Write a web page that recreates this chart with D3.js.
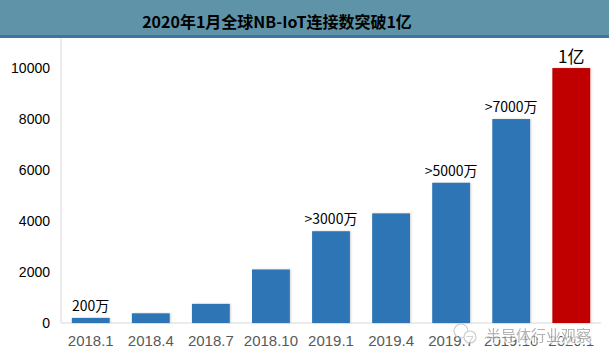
<!DOCTYPE html>
<html lang="zh">
<head>
<meta charset="UTF-8">
<title>2020年1月全球NB-IoT连接数突破1亿</title>
<style>
  body { margin: 0; background: #fff; }
  svg text { font-family: "Liberation Sans", Arial, "Noto Sans CJK SC", sans-serif; }
</style>
</head>
<body>
<svg id="chart" width="609" height="364"></svg>
<script src="https://d3js.org/d3.v7.min.js"></script>
<script>
var categories = ["2018.1", "2018.4", "2018.7", "2018.10", "2019.1", "2019.4", "2019.7", "2019.10", "2020.1"];
var values = [200, 380, 750, 2100, 3600, 4300, 5500, 8000, 10000];
var barLabels = ["200万", "", "", "", ">3000万", "", ">5000万", ">7000万", "1亿"];
var yTicks = [0, 2000, 4000, 6000, 8000, 10000];

var svg = d3.select("#chart");
var W = 609, H = 364;
var plot = { left: 61, right: 601, top: 40, bottom: 323 };

// title bar
svg.append("rect").attr("x", 0).attr("y", 0).attr("width", W).attr("height", 38).attr("fill", "#5e93a8");
svg.append("rect").attr("x", 0).attr("y", 35).attr("width", W).attr("height", 3).attr("fill", "#43739f");
svg.append("text")
   .attr("x", 277).attr("y", 24)
   .attr("text-anchor", "middle")
   .attr("dominant-baseline", "middle")
   .style("font-family", "'Noto Sans CJK SC', sans-serif")
   .style("font-weight", "bold")
   .style("font-size", "16px")
   .attr("fill", "#000")
   .text("2020年1月全球NB-IoT连接数突破1亿");

var x = d3.scaleBand().domain(categories).range([plot.left, plot.right]).paddingInner(0.37).paddingOuter(0.18);
var y = d3.scaleLinear().domain([0, 11100]).range([plot.bottom, plot.top]);

// axis lines
svg.append("line").attr("x1", plot.left).attr("x2", plot.left).attr("y1", plot.top - 2).attr("y2", plot.bottom)
   .attr("stroke", "#d9d9d9");
svg.append("line").attr("x1", plot.left).attr("x2", plot.right).attr("y1", plot.bottom).attr("y2", plot.bottom)
   .attr("stroke", "#d9d9d9");

// y ticks
var yAxis = svg.append("g").attr("transform", "translate(" + plot.left + ",0)")
   .call(d3.axisLeft(y).tickValues(yTicks).tickSize(0).tickPadding(11).tickFormat(d3.format("d")));
yAxis.select(".domain").remove();
yAxis.selectAll("text").style("font-size", "14px").attr("fill", "#000");

// x ticks
var xAxis = svg.append("g").attr("transform", "translate(0," + plot.bottom + ")")
   .call(d3.axisBottom(x).tickSize(0).tickPadding(12));
xAxis.select(".domain").remove();
xAxis.selectAll("text").style("font-size", "15px").attr("fill", "#595959");

// bar shadow
var defs = svg.append("defs");
var f = defs.append("filter").attr("id", "sh").attr("x", "-20%").attr("y", "-5%").attr("width", "140%").attr("height", "110%");
f.append("feDropShadow").attr("dx", 1).attr("dy", 0).attr("stdDeviation", 1.2).attr("flood-color", "#000").attr("flood-opacity", 0.18);

svg.selectAll(".bar")
   .data(categories)
   .enter().append("rect")
   .attr("class", "bar")
   .attr("x", function(d) { return x(d); })
   .attr("y", function(d, i) { return y(values[i]); })
   .attr("width", x.bandwidth())
   .attr("height", function(d, i) { return plot.bottom - y(values[i]); })
   .attr("fill", function(d, i) { return i === categories.length - 1 ? "#c00000" : "#2e75b6"; })
   .attr("filter", "url(#sh)");

svg.selectAll(".lbl")
   .data(categories)
   .enter().append("text")
   .attr("class", "lbl")
   .attr("x", function(d) { return x(d) + x.bandwidth() / 2; })
   .attr("y", function(d, i) { return y(values[i]) - (i === categories.length - 1 ? 5 : 7); })
   .attr("text-anchor", "middle")
   .style("font-family", "'Noto Sans CJK SC', 'Liberation Sans', sans-serif")
   .style("font-size", function(d, i) { return i === categories.length - 1 ? "17px" : "14px"; })
   .attr("fill", "#000")
   .text(function(d, i) { return barLabels[i]; });

// watermark (overlaps the last tick labels, as in the source image)
var wm = svg.append("g").attr("opacity", 0.75);
wm.append("circle").attr("cx", 461).attr("cy", 331).attr("r", 7).attr("fill", "none").attr("stroke", "#bbb").attr("stroke-width", 1.2);
wm.append("circle").attr("cx", 470).attr("cy", 337).attr("r", 6).attr("fill", "#fff").attr("stroke", "#bbb").attr("stroke-width", 1.2);
wm.append("text").attr("x", 486).attr("y", 341)
   .style("font-family", "'Noto Sans CJK SC', sans-serif")
   .style("font-size", "15px")
   .attr("fill", "#fff").attr("stroke", "#fff").attr("stroke-width", 3)
   .text("半导体行业观察");
wm.append("text").attr("x", 486).attr("y", 341)
   .style("font-family", "'Noto Sans CJK SC', sans-serif")
   .style("font-size", "15px")
   .attr("fill", "#9a9a9a")
   .text("半导体行业观察");
</script>
</body>
</html>
